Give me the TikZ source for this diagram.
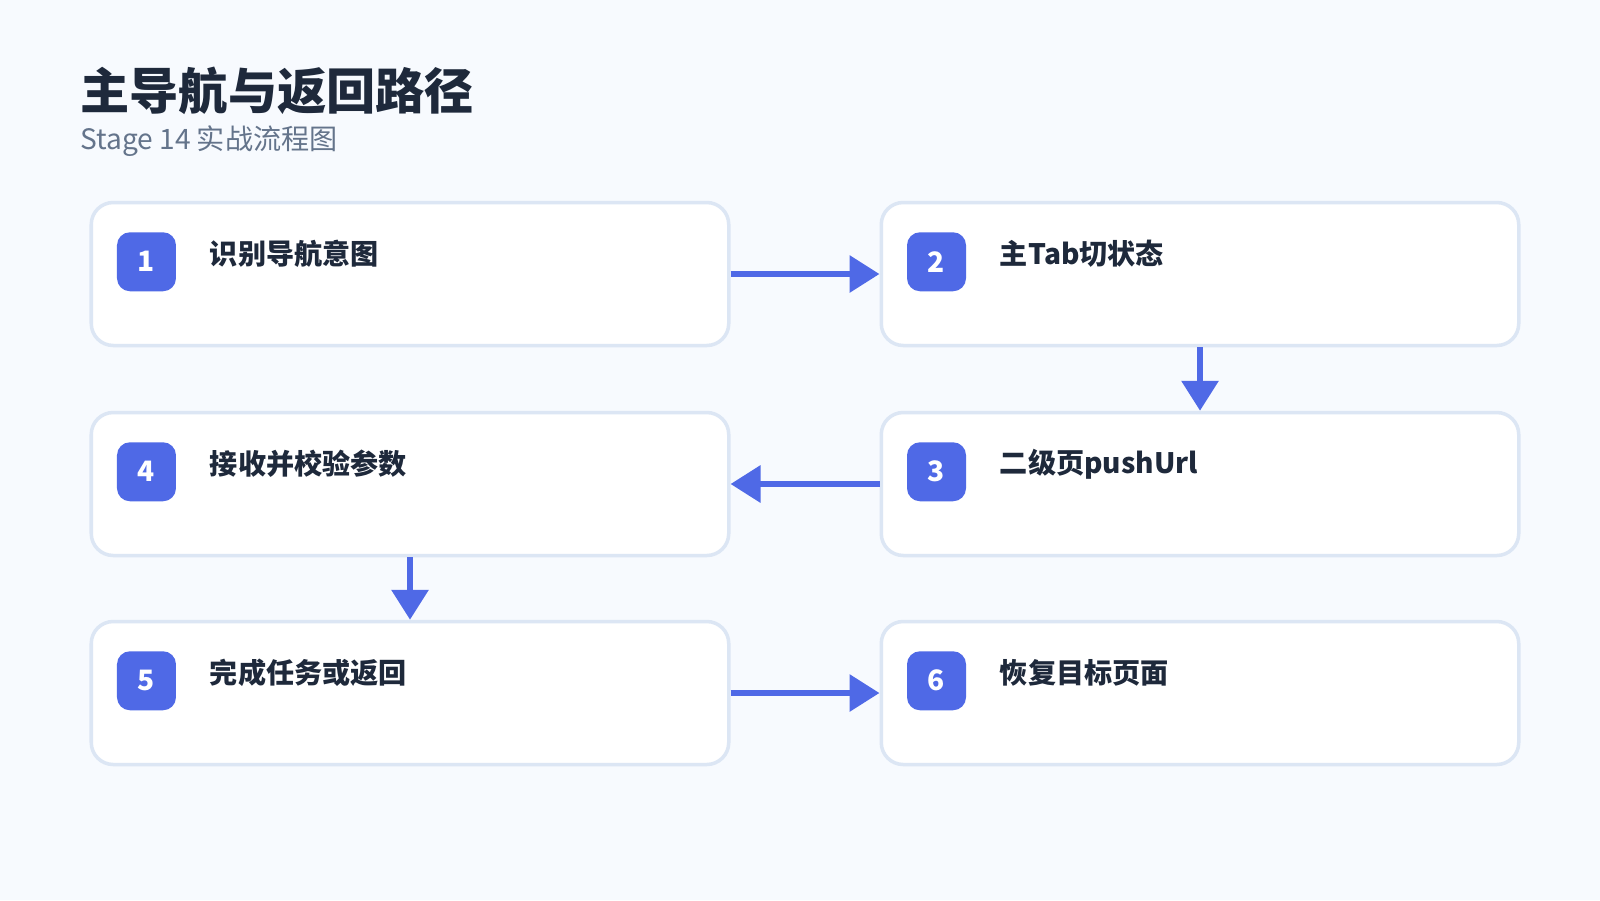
\documentclass[tikz,border=0pt]{standalone}
\usepackage{fontspec}
\setmainfont{Noto Sans CJK SC}
\usetikzlibrary{positioning,arrows.meta}
\definecolor{bgpage}{HTML}{F7FAFE}
\definecolor{boxline}{HTML}{DCE6F4}
\definecolor{accent}{HTML}{4F69E6}
\definecolor{ink}{HTML}{1E293B}
\definecolor{muted}{HTML}{64748B}
\tikzset{
  stepbox/.style={draw=boxline,line width=1pt,fill=white,rounded corners=0.22cm,
    minimum width=6.375cm,minimum height=1.43cm,inner sep=0pt},
  badge/.style={fill=accent,rounded corners=0.13cm,minimum size=0.59cm,inner sep=0pt,
    text=white,font=\fontsize{8}{8}\selectfont\bfseries},
  steptext/.style={anchor=west,text=ink,font=\fontsize{8}{8}\selectfont\bfseries},
  flow/.style={draw=accent,line width=1.8pt,-{Triangle[length=0.3cm,width=0.36cm]}}
}
\begin{document}
\begin{tikzpicture}
\fill[bgpage] (0,0) rectangle (16,-9);
\useasboundingbox (0,0) rectangle (16,-9);
\node[anchor=west,text=ink,font=\fontsize{14}{14}\selectfont\bfseries] (title) at (0.68,-0.91) {主导航与返回路径};
\node[anchor=west,text=muted,font=\fontsize{8}{8}\selectfont] (sub) at (0.68,-1.41) {Stage 14 实战流程图};
% steps
\node[stepbox] (s1) at (4.10,-2.74) {};
\node[stepbox] (s2) at (12.00,-2.74) {};
\node[stepbox] (s3) at (12.00,-4.84) {};
\node[stepbox] (s4) at (4.10,-4.84) {};
\node[stepbox] (s5) at (4.10,-6.93) {};
\node[stepbox] (s6) at (12.00,-6.93) {};
\foreach \n/\t in {1/识别导航意图,2/主Tab切状态,3/二级页pushUrl,4/接收并校验参数,5/完成任务或返回,6/恢复目标页面}{
  \node[badge] (b\n) at ([xshift=0.57cm,yshift=-0.61cm]s\n.north west) {\n};
  \node[steptext] (t\n) at ([xshift=1.08cm,yshift=-0.53cm]s\n.north west) {\t};
}
\draw[flow] (s1) -- (s2);
\draw[flow] (s2) -- (s3);
\draw[flow] (s3) -- (s4);
\draw[flow] (s4) -- (s5);
\draw[flow] (s5) -- (s6);
\end{tikzpicture}
\end{document}
